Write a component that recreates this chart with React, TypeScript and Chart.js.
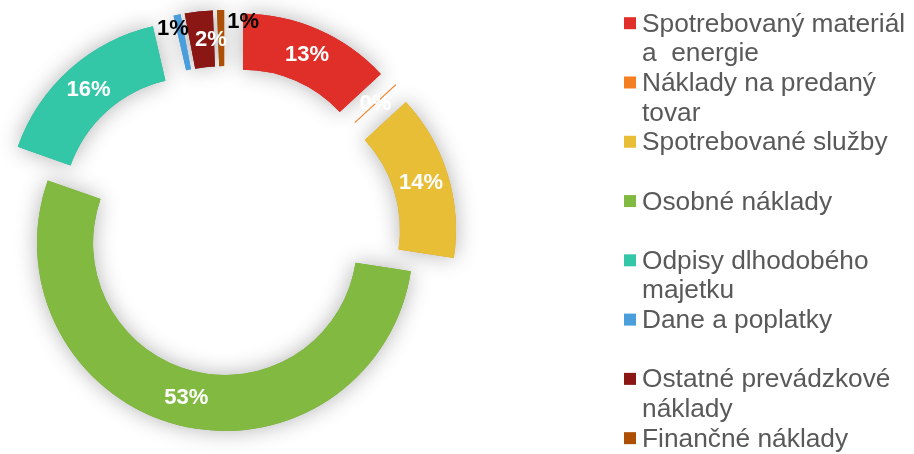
import React, { useEffect, useRef } from 'react';
import { Chart, registerables } from 'chart.js';

Chart.register(...registerables);

const CATEGORIES: (string | string[])[] = [
  ['Spotrebovaný materiál', 'a  energie'],
  ['Náklady na predaný', 'tovar'],
  'Spotrebované služby',
  'Osobné náklady',
  ['Odpisy dlhodobého', 'majetku'],
  'Dane a poplatky',
  ['Ostatné prevádzkové', 'náklady'],
  'Finančné náklady',
];
const VALUES = [13.1, 0, 14.3, 53.0, 16.0, 0.6, 2.4, 0.6];
const COLORS = ['#E02F29', '#F47F22', '#E8BE36', '#82BA41', '#33C7A8', '#4A9EDC', '#8A1713', '#AD4F04'];
const EXPLODE = [45, 45, 45, 0, 45, 45, 45, 45];
const LABEL_COLORS = ['#ffffff', '#ffffff', '#ffffff', '#ffffff', '#ffffff', '#000000', '#ffffff', '#000000'];
const LABEL_NUDGE = [[0, 0], [0, 0], [0, 0], [0, 0], [0, 0], [-10, -13], [9, 1], [22, -16]];

const FONT = '"Liberation Sans", Arial, sans-serif';

const explodePlugin = {
  id: 'explodeArcs',
  beforeDatasetsDraw(chart: any) {
    const meta = chart.getDatasetMeta(0);
    meta.data.forEach((arc: any, i: number) => {
      if (arc.__wrapped) return;
      const proto = Object.getPrototypeOf(arc);
      arc.draw = function (c: CanvasRenderingContext2D) {
        const d = EXPLODE[i] || 0;
        const mid = (this.startAngle + this.endAngle) / 2;
        c.save();
        c.translate(Math.cos(mid) * d, Math.sin(mid) * d);
        proto.draw.call(this, c);
        c.restore();
      };
      arc.__wrapped = true;
    });
  },
  afterDatasetsDraw(chart: any) {
    const ctx: CanvasRenderingContext2D = chart.ctx;
    const meta = chart.getDatasetMeta(0);
    const total = VALUES.reduce((a, b) => a + b, 0);
    meta.data.forEach((arc: any, i: number) => {
      if (VALUES[i] !== 0) return;
      const a = arc.startAngle;
      const d = EXPLODE[i] || 0;
      ctx.save();
      ctx.strokeStyle = COLORS[i];
      ctx.lineWidth = 1.2;
      ctx.beginPath();
      ctx.moveTo(arc.x + Math.cos(a) * (d + arc.innerRadius), arc.y + Math.sin(a) * (d + arc.innerRadius));
      ctx.lineTo(arc.x + Math.cos(a) * (d + arc.outerRadius), arc.y + Math.sin(a) * (d + arc.outerRadius));
      ctx.stroke();
      ctx.restore();
    });
    meta.data.forEach((arc: any, i: number) => {
      const mid = (arc.startAngle + arc.endAngle) / 2;
      const r = (arc.innerRadius + arc.outerRadius) / 2 + (EXPLODE[i] || 0);
      const x = arc.x + Math.cos(mid) * r + LABEL_NUDGE[i][0];
      const y = arc.y + Math.sin(mid) * r + LABEL_NUDGE[i][1];
      ctx.save();
      ctx.font = `bold 22px ${FONT}`;
      ctx.fillStyle = LABEL_COLORS[i];
      ctx.textAlign = 'center';
      ctx.textBaseline = 'middle';
      ctx.fillText(Math.round((VALUES[i] / total) * 100) + '%', x, y);
      ctx.restore();
    });
  },
  afterDraw(chart: any) {
    const ctx: CanvasRenderingContext2D = chart.ctx;
    const meta = chart.getDatasetMeta(0);
    // soft halo behind the slices (painted underneath what is already drawn)
    meta.data.forEach((arc: any, i: number) => {
      if (!(arc.endAngle > arc.startAngle)) return;
      const d = EXPLODE[i] || 0;
      const mid = (arc.startAngle + arc.endAngle) / 2;
      const cx = arc.x + Math.cos(mid) * d;
      const cy = arc.y + Math.sin(mid) * d;
      ctx.save();
      ctx.globalCompositeOperation = 'destination-over';
      ctx.shadowColor = 'rgba(0,0,0,0.3)';
      ctx.shadowBlur = 22;
      ctx.fillStyle = COLORS[i];
      ctx.beginPath();
      ctx.arc(cx, cy, arc.outerRadius, arc.startAngle, arc.endAngle);
      ctx.arc(cx, cy, arc.innerRadius, arc.endAngle, arc.startAngle, true);
      ctx.closePath();
      ctx.fill();
      ctx.restore();
    });
    // legend
    const pitch = 29.64;
    const firstBaseline = 31.7;
    ctx.save();
    ctx.font = `26.3px ${FONT}`;
    ctx.textBaseline = 'alphabetic';
    ctx.textAlign = 'left';
    CATEGORIES.forEach((cat, i) => {
      const lines = Array.isArray(cat) ? cat : [cat];
      const base = firstBaseline + i * 2 * pitch;
      ctx.fillStyle = COLORS[i];
      ctx.fillRect(624, base - 14.5, 12, 12);
      ctx.fillStyle = '#595959';
      lines.forEach((ln, j) => {
        ctx.fillText(ln, 642, base + j * pitch);
      });
    });
    ctx.restore();
  },
};

export default function App() {
  const ref = useRef<HTMLCanvasElement | null>(null);
  useEffect(() => {
    if (!ref.current) return;
    const chart = new Chart(ref.current, {
      type: 'doughnut',
      data: {
        labels: CATEGORIES as any,
        datasets: [
          {
            data: VALUES,
            backgroundColor: COLORS,
            borderWidth: 0,
          },
        ],
      },
      options: {
        animation: false,
        responsive: true,
        maintainAspectRatio: false,
        cutout: '70.2%',
        layout: { padding: { left: 37, top: 55, right: 501, bottom: 23 } },
        plugins: {
          legend: { display: false },
          tooltip: { enabled: false },
        },
        events: [],
      },
      plugins: [explodePlugin],
    });
    return () => chart.destroy();
  }, []);
  return (
    <div style={{ position: 'fixed', left: 0, top: 0, width: 914, height: 454, background: '#ffffff' }}>
      <canvas ref={ref} />
    </div>
  );
}
